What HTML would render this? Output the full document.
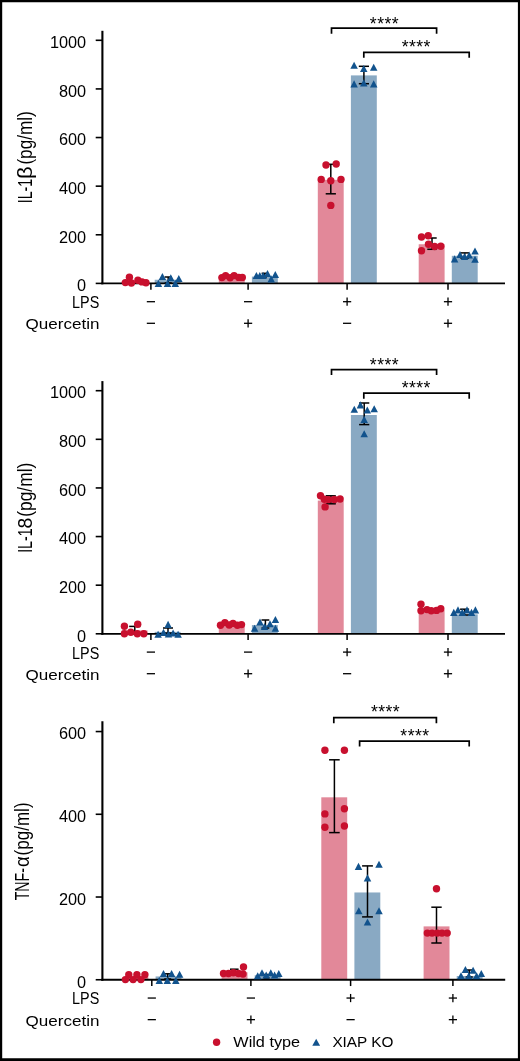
<!DOCTYPE html>
<html lang="en">
<head>
<meta charset="utf-8">
<title>Figure</title>
<style>
html,body{margin:0;padding:0;background:#fff;}
body{width:520px;height:1061px;overflow:hidden;}
svg{display:block;will-change:transform;transform:translateZ(0);font-family:'Liberation Sans', sans-serif;fill:#000;}
</style>
</head>
<body>
<svg width="520" height="1061" viewBox="0 0 520 1061">
<rect x="0" y="0" width="520" height="1061" fill="#fff"/>
<path d="M0 0H520V1061H0Z M2.2 2.25V1058.3H517.9V2.25Z" fill="#000" fill-rule="evenodd"/>
<rect x="121.6" y="281.46" width="25.9" height="1.94" fill="#E28899"/>
<rect x="154.7" y="279.75" width="25.9" height="3.65" fill="#89A9C3"/>
<rect x="218.8" y="277.32" width="25.9" height="6.08" fill="#E28899"/>
<rect x="251.9" y="276.59" width="25.9" height="6.81" fill="#89A9C3"/>
<rect x="317.8" y="179.84" width="25.9" height="103.56" fill="#E28899"/>
<rect x="350.9" y="75.4" width="25.9" height="208" fill="#89A9C3"/>
<rect x="418.7" y="244.26" width="25.9" height="39.14" fill="#E28899"/>
<rect x="451.8" y="255.81" width="25.9" height="27.59" fill="#89A9C3"/>
<line x1="102.4" y1="30.8" x2="102.4" y2="284.3" stroke="#000" stroke-width="2.1" stroke-linecap="butt"/>
<line x1="101.35" y1="283.4" x2="505" y2="283.4" stroke="#000" stroke-width="1.8" stroke-linecap="butt"/>
<line x1="95.7" y1="283.4" x2="102.4" y2="283.4" stroke="#000" stroke-width="1.6" stroke-linecap="butt"/>
<text x="86.15" y="291.15" font-size="16.3" text-anchor="end">0</text>
<line x1="95.7" y1="234.78" x2="102.4" y2="234.78" stroke="#000" stroke-width="1.6" stroke-linecap="butt"/>
<text x="86.15" y="242.53" font-size="16.3" text-anchor="end">200</text>
<line x1="95.7" y1="186.16" x2="102.4" y2="186.16" stroke="#000" stroke-width="1.6" stroke-linecap="butt"/>
<text x="86.15" y="193.91" font-size="16.3" text-anchor="end">400</text>
<line x1="95.7" y1="137.54" x2="102.4" y2="137.54" stroke="#000" stroke-width="1.6" stroke-linecap="butt"/>
<text x="86.15" y="145.29" font-size="16.3" text-anchor="end">600</text>
<line x1="95.7" y1="88.92" x2="102.4" y2="88.92" stroke="#000" stroke-width="1.6" stroke-linecap="butt"/>
<text x="86.15" y="96.67" font-size="16.3" text-anchor="end">800</text>
<line x1="95.7" y1="40.3" x2="102.4" y2="40.3" stroke="#000" stroke-width="1.6" stroke-linecap="butt"/>
<text x="86.15" y="48.05" font-size="16.3" text-anchor="end">1000</text>
<line x1="150.9" y1="283.4" x2="150.9" y2="289.7" stroke="#000" stroke-width="1.5" stroke-linecap="butt"/>
<line x1="248.1" y1="283.4" x2="248.1" y2="289.7" stroke="#000" stroke-width="1.5" stroke-linecap="butt"/>
<line x1="347.1" y1="283.4" x2="347.1" y2="289.7" stroke="#000" stroke-width="1.5" stroke-linecap="butt"/>
<line x1="448" y1="283.4" x2="448" y2="289.7" stroke="#000" stroke-width="1.5" stroke-linecap="butt"/>
<line x1="330.8" y1="164.3" x2="330.8" y2="193.8" stroke="#000" stroke-width="1.5" stroke-linecap="butt"/>
<line x1="325.7" y1="164.3" x2="335.9" y2="164.3" stroke="#000" stroke-width="1.5" stroke-linecap="butt"/>
<line x1="325.7" y1="193.8" x2="335.9" y2="193.8" stroke="#000" stroke-width="1.5" stroke-linecap="butt"/>
<line x1="363.9" y1="66.3" x2="363.9" y2="83.7" stroke="#000" stroke-width="1.5" stroke-linecap="butt"/>
<line x1="358.8" y1="66.3" x2="369" y2="66.3" stroke="#000" stroke-width="1.5" stroke-linecap="butt"/>
<line x1="358.8" y1="83.7" x2="369" y2="83.7" stroke="#000" stroke-width="1.5" stroke-linecap="butt"/>
<line x1="432" y1="238" x2="432" y2="249.3" stroke="#000" stroke-width="1.5" stroke-linecap="butt"/>
<line x1="427.3" y1="238" x2="436.7" y2="238" stroke="#000" stroke-width="1.5" stroke-linecap="butt"/>
<line x1="427.3" y1="249.3" x2="436.7" y2="249.3" stroke="#000" stroke-width="1.5" stroke-linecap="butt"/>
<line x1="464.7" y1="252.9" x2="464.7" y2="258" stroke="#000" stroke-width="1.5" stroke-linecap="butt"/>
<line x1="460.3" y1="252.9" x2="469.1" y2="252.9" stroke="#000" stroke-width="1.5" stroke-linecap="butt"/>
<line x1="460.3" y1="258" x2="469.1" y2="258" stroke="#000" stroke-width="1.5" stroke-linecap="butt"/>
<line x1="168.2" y1="277" x2="168.2" y2="283" stroke="#000" stroke-width="1.5" stroke-linecap="butt"/>
<line x1="164.6" y1="277" x2="171.8" y2="277" stroke="#000" stroke-width="1.5" stroke-linecap="butt"/>
<line x1="164.6" y1="283" x2="171.8" y2="283" stroke="#000" stroke-width="1.5" stroke-linecap="butt"/>
<line x1="264.2" y1="273.3" x2="264.2" y2="277" stroke="#000" stroke-width="1.5" stroke-linecap="butt"/>
<line x1="261.6" y1="273.3" x2="266.8" y2="273.3" stroke="#000" stroke-width="1.5" stroke-linecap="butt"/>
<line x1="261.6" y1="277" x2="266.8" y2="277" stroke="#000" stroke-width="1.5" stroke-linecap="butt"/>
<circle cx="125.4" cy="282.6" r="3.7" fill="#C8102E"/>
<circle cx="129.4" cy="277.3" r="3.7" fill="#C8102E"/>
<circle cx="131.4" cy="283" r="3.7" fill="#C8102E"/>
<circle cx="137.9" cy="280.2" r="3.7" fill="#C8102E"/>
<circle cx="142" cy="281.9" r="3.7" fill="#C8102E"/>
<circle cx="146" cy="282.8" r="3.7" fill="#C8102E"/>
<circle cx="221.9" cy="277.6" r="3.7" fill="#C8102E"/>
<circle cx="225.6" cy="275.6" r="3.7" fill="#C8102E"/>
<circle cx="230.1" cy="277.8" r="3.7" fill="#C8102E"/>
<circle cx="234.1" cy="275.6" r="3.7" fill="#C8102E"/>
<circle cx="238.8" cy="277.4" r="3.7" fill="#C8102E"/>
<circle cx="242.3" cy="277.4" r="3.7" fill="#C8102E"/>
<circle cx="326" cy="165" r="3.7" fill="#C8102E"/>
<circle cx="336.2" cy="164" r="3.7" fill="#C8102E"/>
<circle cx="321.2" cy="179.4" r="3.7" fill="#C8102E"/>
<circle cx="330.8" cy="180.8" r="3.7" fill="#C8102E"/>
<circle cx="341" cy="179.4" r="3.7" fill="#C8102E"/>
<circle cx="330.8" cy="205.4" r="3.7" fill="#C8102E"/>
<circle cx="421.5" cy="237" r="3.7" fill="#C8102E"/>
<circle cx="428.2" cy="235.8" r="3.7" fill="#C8102E"/>
<circle cx="428.5" cy="244.2" r="3.7" fill="#C8102E"/>
<circle cx="434.6" cy="246.5" r="3.7" fill="#C8102E"/>
<circle cx="440.8" cy="246.2" r="3.7" fill="#C8102E"/>
<circle cx="421.5" cy="250.8" r="3.7" fill="#C8102E"/>
<path d="M162.4 272.95L166.15 280L158.65 280Z" fill="#12538D"/>
<path d="M170.8 274.25L174.55 281.3L167.05 281.3Z" fill="#12538D"/>
<path d="M178.8 274.95L182.55 282L175.05 282Z" fill="#12538D"/>
<path d="M158.4 279.85L162.15 286.9L154.65 286.9Z" fill="#12538D"/>
<path d="M167.5 279.85L171.25 286.9L163.75 286.9Z" fill="#12538D"/>
<path d="M175.3 279.85L179.05 286.9L171.55 286.9Z" fill="#12538D"/>
<path d="M256.4 271.95L260.15 279L252.65 279Z" fill="#12538D"/>
<path d="M259.8 271.95L263.55 279L256.05 279Z" fill="#12538D"/>
<path d="M263.1 271.95L266.85 279L259.35 279Z" fill="#12538D"/>
<path d="M267.5 269.95L271.25 277L263.75 277Z" fill="#12538D"/>
<path d="M271.2 275.35L274.95 282.4L267.45 282.4Z" fill="#12538D"/>
<path d="M275.3 270.95L279.05 278L271.55 278Z" fill="#12538D"/>
<path d="M354.1 61.75L357.85 68.8L350.35 68.8Z" fill="#12538D"/>
<path d="M363.75 64.95L367.5 72L360 72Z" fill="#12538D"/>
<path d="M373.7 63.65L377.45 70.7L369.95 70.7Z" fill="#12538D"/>
<path d="M354.1 80.35L357.85 87.4L350.35 87.4Z" fill="#12538D"/>
<path d="M363.75 79.35L367.5 86.4L360 86.4Z" fill="#12538D"/>
<path d="M373.7 80.35L377.45 87.4L369.95 87.4Z" fill="#12538D"/>
<path d="M454.6 255.35L458.35 262.4L450.85 262.4Z" fill="#12538D"/>
<path d="M460 251.05L463.75 258.1L456.25 258.1Z" fill="#12538D"/>
<path d="M464.5 253.05L468.25 260.1L460.75 260.1Z" fill="#12538D"/>
<path d="M469.2 251.55L472.95 258.6L465.45 258.6Z" fill="#12538D"/>
<path d="M475 247.55L478.75 254.6L471.25 254.6Z" fill="#12538D"/>
<path d="M475 255.75L478.75 262.8L471.25 262.8Z" fill="#12538D"/>
<text x="72.1" y="308.1" font-size="15.6" text-anchor="start" textLength="27.2" lengthAdjust="spacingAndGlyphs">LPS</text>
<text x="25.6" y="329.35" font-size="15.5" text-anchor="start" textLength="73.9" lengthAdjust="spacingAndGlyphs">Quercetin</text>
<line x1="146.8" y1="301.7" x2="155" y2="301.7" stroke="#000" stroke-width="1.3" stroke-linecap="butt"/>
<line x1="146.8" y1="323.3" x2="155" y2="323.3" stroke="#000" stroke-width="1.3" stroke-linecap="butt"/>
<line x1="244" y1="301.7" x2="252.2" y2="301.7" stroke="#000" stroke-width="1.3" stroke-linecap="butt"/>
<line x1="244" y1="323.3" x2="252.2" y2="323.3" stroke="#000" stroke-width="1.3" stroke-linecap="butt"/>
<line x1="248.1" y1="319.2" x2="248.1" y2="327.4" stroke="#000" stroke-width="1.3" stroke-linecap="butt"/>
<line x1="343" y1="301.7" x2="351.2" y2="301.7" stroke="#000" stroke-width="1.3" stroke-linecap="butt"/>
<line x1="347.1" y1="297.6" x2="347.1" y2="305.8" stroke="#000" stroke-width="1.3" stroke-linecap="butt"/>
<line x1="343" y1="323.3" x2="351.2" y2="323.3" stroke="#000" stroke-width="1.3" stroke-linecap="butt"/>
<line x1="443.9" y1="301.7" x2="452.1" y2="301.7" stroke="#000" stroke-width="1.3" stroke-linecap="butt"/>
<line x1="448" y1="297.6" x2="448" y2="305.8" stroke="#000" stroke-width="1.3" stroke-linecap="butt"/>
<line x1="443.9" y1="323.3" x2="452.1" y2="323.3" stroke="#000" stroke-width="1.3" stroke-linecap="butt"/>
<line x1="448" y1="319.2" x2="448" y2="327.4" stroke="#000" stroke-width="1.3" stroke-linecap="butt"/>
<text transform="translate(31.6 203.2) rotate(-90)" x="0" y="0" font-size="20.2" text-anchor="start" textLength="24.3" lengthAdjust="spacingAndGlyphs">IL-1</text>
<text transform="translate(31.6 178.9) rotate(-90)" x="0" y="0" font-size="20.2" text-anchor="start" textLength="12.6" lengthAdjust="spacingAndGlyphs">β</text>
<text transform="translate(31.6 164.6) rotate(-90)" x="0" y="0" font-size="20.2" text-anchor="start" textLength="53.3" lengthAdjust="spacingAndGlyphs">(pg/ml)</text>
<path d="M331.5 33.65V28.2H436.6V33.65" fill="none" stroke="#000" stroke-width="1.7" stroke-linejoin="miter"/>
<text x="384.4" y="29.65" font-size="17.6" text-anchor="middle" letter-spacing="0.42">****</text>
<path d="M363.8 57.75V52.3H469.2V57.75" fill="none" stroke="#000" stroke-width="1.7" stroke-linejoin="miter"/>
<text x="416.2" y="53.15" font-size="17.6" text-anchor="middle" letter-spacing="0.42">****</text>
<rect x="121.6" y="630.4" width="25.9" height="3.4" fill="#E28899"/>
<rect x="154.7" y="631.86" width="25.9" height="1.94" fill="#89A9C3"/>
<rect x="218.8" y="625.29" width="25.9" height="8.51" fill="#E28899"/>
<rect x="251.9" y="625.05" width="25.9" height="8.75" fill="#89A9C3"/>
<rect x="317.8" y="500.58" width="25.9" height="133.22" fill="#E28899"/>
<rect x="350.9" y="415.01" width="25.9" height="218.79" fill="#89A9C3"/>
<rect x="418.7" y="610.22" width="25.9" height="23.58" fill="#E28899"/>
<rect x="451.8" y="614.35" width="25.9" height="19.45" fill="#89A9C3"/>
<line x1="102.4" y1="381.1" x2="102.4" y2="634.7" stroke="#000" stroke-width="2.1" stroke-linecap="butt"/>
<line x1="101.35" y1="633.8" x2="505" y2="633.8" stroke="#000" stroke-width="1.8" stroke-linecap="butt"/>
<line x1="95.7" y1="633.8" x2="102.4" y2="633.8" stroke="#000" stroke-width="1.6" stroke-linecap="butt"/>
<text x="86.15" y="641.55" font-size="16.3" text-anchor="end">0</text>
<line x1="95.7" y1="585.18" x2="102.4" y2="585.18" stroke="#000" stroke-width="1.6" stroke-linecap="butt"/>
<text x="86.15" y="592.93" font-size="16.3" text-anchor="end">200</text>
<line x1="95.7" y1="536.56" x2="102.4" y2="536.56" stroke="#000" stroke-width="1.6" stroke-linecap="butt"/>
<text x="86.15" y="544.31" font-size="16.3" text-anchor="end">400</text>
<line x1="95.7" y1="487.94" x2="102.4" y2="487.94" stroke="#000" stroke-width="1.6" stroke-linecap="butt"/>
<text x="86.15" y="495.69" font-size="16.3" text-anchor="end">600</text>
<line x1="95.7" y1="439.32" x2="102.4" y2="439.32" stroke="#000" stroke-width="1.6" stroke-linecap="butt"/>
<text x="86.15" y="447.07" font-size="16.3" text-anchor="end">800</text>
<line x1="95.7" y1="390.7" x2="102.4" y2="390.7" stroke="#000" stroke-width="1.6" stroke-linecap="butt"/>
<text x="86.15" y="398.45" font-size="16.3" text-anchor="end">1000</text>
<line x1="150.9" y1="633.8" x2="150.9" y2="640.1" stroke="#000" stroke-width="1.5" stroke-linecap="butt"/>
<line x1="248.1" y1="633.8" x2="248.1" y2="640.1" stroke="#000" stroke-width="1.5" stroke-linecap="butt"/>
<line x1="347.1" y1="633.8" x2="347.1" y2="640.1" stroke="#000" stroke-width="1.5" stroke-linecap="butt"/>
<line x1="448" y1="633.8" x2="448" y2="640.1" stroke="#000" stroke-width="1.5" stroke-linecap="butt"/>
<line x1="330.8" y1="495.8" x2="330.8" y2="503.8" stroke="#000" stroke-width="1.5" stroke-linecap="butt"/>
<line x1="325.8" y1="495.8" x2="335.8" y2="495.8" stroke="#000" stroke-width="1.5" stroke-linecap="butt"/>
<line x1="325.8" y1="503.8" x2="335.8" y2="503.8" stroke="#000" stroke-width="1.5" stroke-linecap="butt"/>
<line x1="364.2" y1="403" x2="364.2" y2="424.6" stroke="#000" stroke-width="1.5" stroke-linecap="butt"/>
<line x1="359.1" y1="403" x2="369.3" y2="403" stroke="#000" stroke-width="1.5" stroke-linecap="butt"/>
<line x1="359.1" y1="424.6" x2="369.3" y2="424.6" stroke="#000" stroke-width="1.5" stroke-linecap="butt"/>
<line x1="464.6" y1="609.2" x2="464.6" y2="615" stroke="#000" stroke-width="1.5" stroke-linecap="butt"/>
<line x1="460.1" y1="609.2" x2="469.1" y2="609.2" stroke="#000" stroke-width="1.5" stroke-linecap="butt"/>
<line x1="460.1" y1="615" x2="469.1" y2="615" stroke="#000" stroke-width="1.5" stroke-linecap="butt"/>
<line x1="134.8" y1="626.4" x2="134.8" y2="633" stroke="#000" stroke-width="1.5" stroke-linecap="butt"/>
<line x1="129.2" y1="626.4" x2="140.4" y2="626.4" stroke="#000" stroke-width="1.5" stroke-linecap="butt"/>
<line x1="129.2" y1="633" x2="140.4" y2="633" stroke="#000" stroke-width="1.5" stroke-linecap="butt"/>
<line x1="168" y1="628" x2="168" y2="633" stroke="#000" stroke-width="1.5" stroke-linecap="butt"/>
<line x1="163" y1="628" x2="173" y2="628" stroke="#000" stroke-width="1.5" stroke-linecap="butt"/>
<line x1="163" y1="633" x2="173" y2="633" stroke="#000" stroke-width="1.5" stroke-linecap="butt"/>
<line x1="265.4" y1="620" x2="265.4" y2="628" stroke="#000" stroke-width="1.5" stroke-linecap="butt"/>
<line x1="261.5" y1="620" x2="269.3" y2="620" stroke="#000" stroke-width="1.5" stroke-linecap="butt"/>
<line x1="261.5" y1="628" x2="269.3" y2="628" stroke="#000" stroke-width="1.5" stroke-linecap="butt"/>
<circle cx="124.4" cy="626.2" r="3.7" fill="#C8102E"/>
<circle cx="137.7" cy="624.2" r="3.7" fill="#C8102E"/>
<circle cx="124.4" cy="633.7" r="3.7" fill="#C8102E"/>
<circle cx="130.8" cy="632.3" r="3.7" fill="#C8102E"/>
<circle cx="137.3" cy="633.7" r="3.7" fill="#C8102E"/>
<circle cx="143.8" cy="633.7" r="3.7" fill="#C8102E"/>
<circle cx="220.5" cy="625.2" r="3.7" fill="#C8102E"/>
<circle cx="224.9" cy="622.6" r="3.7" fill="#C8102E"/>
<circle cx="229.2" cy="625" r="3.7" fill="#C8102E"/>
<circle cx="233" cy="623.4" r="3.7" fill="#C8102E"/>
<circle cx="237.4" cy="625.2" r="3.7" fill="#C8102E"/>
<circle cx="241.5" cy="624.6" r="3.7" fill="#C8102E"/>
<circle cx="320.5" cy="495.8" r="3.7" fill="#C8102E"/>
<circle cx="324.3" cy="499.2" r="3.7" fill="#C8102E"/>
<circle cx="328.5" cy="499.6" r="3.7" fill="#C8102E"/>
<circle cx="334.3" cy="499.5" r="3.7" fill="#C8102E"/>
<circle cx="340.1" cy="499" r="3.7" fill="#C8102E"/>
<circle cx="325.1" cy="506.9" r="3.7" fill="#C8102E"/>
<circle cx="421" cy="604.2" r="3.7" fill="#C8102E"/>
<circle cx="421" cy="610.8" r="3.7" fill="#C8102E"/>
<circle cx="427" cy="609.6" r="3.7" fill="#C8102E"/>
<circle cx="431.2" cy="610.8" r="3.7" fill="#C8102E"/>
<circle cx="436.5" cy="610.4" r="3.7" fill="#C8102E"/>
<circle cx="440.8" cy="608.8" r="3.7" fill="#C8102E"/>
<path d="M168.1 620.85L171.85 627.9L164.35 627.9Z" fill="#12538D"/>
<path d="M158.1 630.75L161.85 637.8L154.35 637.8Z" fill="#12538D"/>
<path d="M163.5 628.85L167.25 635.9L159.75 635.9Z" fill="#12538D"/>
<path d="M168.5 630.55L172.25 637.6L164.75 637.6Z" fill="#12538D"/>
<path d="M173.1 629.45L176.85 636.5L169.35 636.5Z" fill="#12538D"/>
<path d="M178.1 630.75L181.85 637.8L174.35 637.8Z" fill="#12538D"/>
<path d="M260 618.55L263.75 625.6L256.25 625.6Z" fill="#12538D"/>
<path d="M275.4 616.05L279.15 623.1L271.65 623.1Z" fill="#12538D"/>
<path d="M270 620.15L273.75 627.2L266.25 627.2Z" fill="#12538D"/>
<path d="M254.6 624.75L258.35 631.8L250.85 631.8Z" fill="#12538D"/>
<path d="M264.6 622.95L268.35 630L260.85 630Z" fill="#12538D"/>
<path d="M275.4 624.75L279.15 631.8L271.65 631.8Z" fill="#12538D"/>
<path d="M360.4 401.35L364.15 408.4L356.65 408.4Z" fill="#12538D"/>
<path d="M354.3 405.65L358.05 412.7L350.55 412.7Z" fill="#12538D"/>
<path d="M367.3 406.55L371.05 413.6L363.55 413.6Z" fill="#12538D"/>
<path d="M374.2 405.15L377.95 412.2L370.45 412.2Z" fill="#12538D"/>
<path d="M364.2 415.85L367.95 422.9L360.45 422.9Z" fill="#12538D"/>
<path d="M364.2 430.25L367.95 437.3L360.45 437.3Z" fill="#12538D"/>
<path d="M453.8 608.85L457.55 615.9L450.05 615.9Z" fill="#12538D"/>
<path d="M458 606.35L461.75 613.4L454.25 613.4Z" fill="#12538D"/>
<path d="M462.3 608.85L466.05 615.9L458.55 615.9Z" fill="#12538D"/>
<path d="M467 606.35L470.75 613.4L463.25 613.4Z" fill="#12538D"/>
<path d="M471.5 608.85L475.25 615.9L467.75 615.9Z" fill="#12538D"/>
<path d="M475.4 606.35L479.15 613.4L471.65 613.4Z" fill="#12538D"/>
<text x="72.1" y="658.5" font-size="15.6" text-anchor="start" textLength="27.2" lengthAdjust="spacingAndGlyphs">LPS</text>
<text x="25.6" y="679.75" font-size="15.5" text-anchor="start" textLength="73.9" lengthAdjust="spacingAndGlyphs">Quercetin</text>
<line x1="146.8" y1="652.1" x2="155" y2="652.1" stroke="#000" stroke-width="1.3" stroke-linecap="butt"/>
<line x1="146.8" y1="673.7" x2="155" y2="673.7" stroke="#000" stroke-width="1.3" stroke-linecap="butt"/>
<line x1="244" y1="652.1" x2="252.2" y2="652.1" stroke="#000" stroke-width="1.3" stroke-linecap="butt"/>
<line x1="244" y1="673.7" x2="252.2" y2="673.7" stroke="#000" stroke-width="1.3" stroke-linecap="butt"/>
<line x1="248.1" y1="669.6" x2="248.1" y2="677.8" stroke="#000" stroke-width="1.3" stroke-linecap="butt"/>
<line x1="343" y1="652.1" x2="351.2" y2="652.1" stroke="#000" stroke-width="1.3" stroke-linecap="butt"/>
<line x1="347.1" y1="648" x2="347.1" y2="656.2" stroke="#000" stroke-width="1.3" stroke-linecap="butt"/>
<line x1="343" y1="673.7" x2="351.2" y2="673.7" stroke="#000" stroke-width="1.3" stroke-linecap="butt"/>
<line x1="443.9" y1="652.1" x2="452.1" y2="652.1" stroke="#000" stroke-width="1.3" stroke-linecap="butt"/>
<line x1="448" y1="648" x2="448" y2="656.2" stroke="#000" stroke-width="1.3" stroke-linecap="butt"/>
<line x1="443.9" y1="673.7" x2="452.1" y2="673.7" stroke="#000" stroke-width="1.3" stroke-linecap="butt"/>
<line x1="448" y1="669.6" x2="448" y2="677.8" stroke="#000" stroke-width="1.3" stroke-linecap="butt"/>
<text transform="translate(31.6 552.8) rotate(-90)" x="0" y="0" font-size="20.2" text-anchor="start" textLength="24.3" lengthAdjust="spacingAndGlyphs">IL-1</text>
<text transform="translate(31.6 528.6) rotate(-90)" x="0" y="0" font-size="20.2" text-anchor="start" textLength="10.8" lengthAdjust="spacingAndGlyphs">8</text>
<text transform="translate(31.6 516.8) rotate(-90)" x="0" y="0" font-size="20.2" text-anchor="start" textLength="54.1" lengthAdjust="spacingAndGlyphs">(pg/ml)</text>
<path d="M331.5 375.05V369.6H436.6V375.05" fill="none" stroke="#000" stroke-width="1.7" stroke-linejoin="miter"/>
<text x="384.4" y="370.55" font-size="17.6" text-anchor="middle" letter-spacing="0.42">****</text>
<path d="M363.8 398.65V393.2H469.2V398.65" fill="none" stroke="#000" stroke-width="1.7" stroke-linejoin="miter"/>
<text x="416.2" y="393.85" font-size="17.6" text-anchor="middle" letter-spacing="0.42">****</text>
<rect x="122.5" y="977.27" width="25.9" height="2.48" fill="#E28899"/>
<rect x="155.6" y="976.44" width="25.9" height="3.31" fill="#89A9C3"/>
<rect x="221.6" y="972.3" width="25.9" height="7.45" fill="#E28899"/>
<rect x="254.7" y="975.2" width="25.9" height="4.55" fill="#89A9C3"/>
<rect x="321.3" y="797.32" width="25.9" height="182.43" fill="#E28899"/>
<rect x="354.4" y="892.47" width="25.9" height="87.28" fill="#89A9C3"/>
<rect x="423.6" y="926.39" width="25.9" height="53.36" fill="#E28899"/>
<rect x="456.7" y="976.03" width="25.9" height="3.72" fill="#89A9C3"/>
<line x1="102.4" y1="721.2" x2="102.4" y2="980.65" stroke="#000" stroke-width="2.1" stroke-linecap="butt"/>
<line x1="101.35" y1="979.75" x2="505.2" y2="979.75" stroke="#000" stroke-width="1.8" stroke-linecap="butt"/>
<line x1="95.7" y1="979.75" x2="102.4" y2="979.75" stroke="#000" stroke-width="1.6" stroke-linecap="butt"/>
<text x="86.15" y="987.5" font-size="16.3" text-anchor="end">0</text>
<line x1="95.7" y1="897.02" x2="102.4" y2="897.02" stroke="#000" stroke-width="1.6" stroke-linecap="butt"/>
<text x="86.15" y="904.77" font-size="16.3" text-anchor="end">200</text>
<line x1="95.7" y1="814.28" x2="102.4" y2="814.28" stroke="#000" stroke-width="1.6" stroke-linecap="butt"/>
<text x="86.15" y="822.03" font-size="16.3" text-anchor="end">400</text>
<line x1="95.7" y1="731.55" x2="102.4" y2="731.55" stroke="#000" stroke-width="1.6" stroke-linecap="butt"/>
<text x="86.15" y="739.3" font-size="16.3" text-anchor="end">600</text>
<line x1="151.8" y1="979.75" x2="151.8" y2="986.05" stroke="#000" stroke-width="1.5" stroke-linecap="butt"/>
<line x1="250.9" y1="979.75" x2="250.9" y2="986.05" stroke="#000" stroke-width="1.5" stroke-linecap="butt"/>
<line x1="350.6" y1="979.75" x2="350.6" y2="986.05" stroke="#000" stroke-width="1.5" stroke-linecap="butt"/>
<line x1="452.9" y1="979.75" x2="452.9" y2="986.05" stroke="#000" stroke-width="1.5" stroke-linecap="butt"/>
<line x1="334.4" y1="759.8" x2="334.4" y2="832.6" stroke="#000" stroke-width="1.5" stroke-linecap="butt"/>
<line x1="329.1" y1="759.8" x2="339.7" y2="759.8" stroke="#000" stroke-width="1.5" stroke-linecap="butt"/>
<line x1="329.1" y1="832.6" x2="339.7" y2="832.6" stroke="#000" stroke-width="1.5" stroke-linecap="butt"/>
<line x1="367.5" y1="865.9" x2="367.5" y2="916.9" stroke="#000" stroke-width="1.5" stroke-linecap="butt"/>
<line x1="362.1" y1="865.9" x2="372.9" y2="865.9" stroke="#000" stroke-width="1.5" stroke-linecap="butt"/>
<line x1="362.1" y1="916.9" x2="372.9" y2="916.9" stroke="#000" stroke-width="1.5" stroke-linecap="butt"/>
<line x1="436.5" y1="907.2" x2="436.5" y2="943" stroke="#000" stroke-width="1.5" stroke-linecap="butt"/>
<line x1="431.3" y1="907.2" x2="441.7" y2="907.2" stroke="#000" stroke-width="1.5" stroke-linecap="butt"/>
<line x1="431.3" y1="943" x2="441.7" y2="943" stroke="#000" stroke-width="1.5" stroke-linecap="butt"/>
<line x1="469.2" y1="970" x2="469.2" y2="977" stroke="#000" stroke-width="1.5" stroke-linecap="butt"/>
<line x1="465.7" y1="970" x2="472.7" y2="970" stroke="#000" stroke-width="1.5" stroke-linecap="butt"/>
<line x1="465.7" y1="977" x2="472.7" y2="977" stroke="#000" stroke-width="1.5" stroke-linecap="butt"/>
<line x1="167.7" y1="973.8" x2="167.7" y2="979" stroke="#000" stroke-width="1.5" stroke-linecap="butt"/>
<line x1="164.2" y1="973.8" x2="171.2" y2="973.8" stroke="#000" stroke-width="1.5" stroke-linecap="butt"/>
<line x1="164.2" y1="979" x2="171.2" y2="979" stroke="#000" stroke-width="1.5" stroke-linecap="butt"/>
<line x1="234.3" y1="969.2" x2="234.3" y2="975" stroke="#000" stroke-width="1.5" stroke-linecap="butt"/>
<line x1="230" y1="969.2" x2="238.6" y2="969.2" stroke="#000" stroke-width="1.5" stroke-linecap="butt"/>
<line x1="230" y1="975" x2="238.6" y2="975" stroke="#000" stroke-width="1.5" stroke-linecap="butt"/>
<line x1="266.5" y1="974.6" x2="266.5" y2="978" stroke="#000" stroke-width="1.5" stroke-linecap="butt"/>
<line x1="263.5" y1="974.6" x2="269.5" y2="974.6" stroke="#000" stroke-width="1.5" stroke-linecap="butt"/>
<line x1="263.5" y1="978" x2="269.5" y2="978" stroke="#000" stroke-width="1.5" stroke-linecap="butt"/>
<circle cx="128.8" cy="974.8" r="3.7" fill="#C8102E"/>
<circle cx="136.9" cy="974.8" r="3.7" fill="#C8102E"/>
<circle cx="144.9" cy="974.8" r="3.7" fill="#C8102E"/>
<circle cx="125.4" cy="979.6" r="3.7" fill="#C8102E"/>
<circle cx="133.1" cy="979.6" r="3.7" fill="#C8102E"/>
<circle cx="140.9" cy="979.6" r="3.7" fill="#C8102E"/>
<circle cx="243.5" cy="967" r="3.7" fill="#C8102E"/>
<circle cx="223.5" cy="973.5" r="3.7" fill="#C8102E"/>
<circle cx="228.5" cy="973.5" r="3.7" fill="#C8102E"/>
<circle cx="233.4" cy="972.8" r="3.7" fill="#C8102E"/>
<circle cx="238.5" cy="973.5" r="3.7" fill="#C8102E"/>
<circle cx="243" cy="974" r="3.7" fill="#C8102E"/>
<circle cx="324.9" cy="750.2" r="3.7" fill="#C8102E"/>
<circle cx="344.4" cy="750.2" r="3.7" fill="#C8102E"/>
<circle cx="344.4" cy="808.7" r="3.7" fill="#C8102E"/>
<circle cx="324.9" cy="813.9" r="3.7" fill="#C8102E"/>
<circle cx="324.9" cy="827.2" r="3.7" fill="#C8102E"/>
<circle cx="344.4" cy="826" r="3.7" fill="#C8102E"/>
<circle cx="436.5" cy="888.7" r="3.7" fill="#C8102E"/>
<circle cx="427.3" cy="933.1" r="3.7" fill="#C8102E"/>
<circle cx="432.1" cy="933.1" r="3.7" fill="#C8102E"/>
<circle cx="437.3" cy="933.1" r="3.7" fill="#C8102E"/>
<circle cx="442" cy="933.1" r="3.7" fill="#C8102E"/>
<circle cx="447.2" cy="933.1" r="3.7" fill="#C8102E"/>
<path d="M163.5 969.95L167.25 977L159.75 977Z" fill="#12538D"/>
<path d="M171.6 969.95L175.35 977L167.85 977Z" fill="#12538D"/>
<path d="M179.6 970.75L183.35 977.8L175.85 977.8Z" fill="#12538D"/>
<path d="M159.3 976.85L163.05 983.9L155.55 983.9Z" fill="#12538D"/>
<path d="M167.3 976.85L171.05 983.9L163.55 983.9Z" fill="#12538D"/>
<path d="M175.8 976.85L179.55 983.9L172.05 983.9Z" fill="#12538D"/>
<path d="M257.7 972.25L261.45 979.3L253.95 979.3Z" fill="#12538D"/>
<path d="M262 969.15L265.75 976.2L258.25 976.2Z" fill="#12538D"/>
<path d="M266.2 971.55L269.95 978.6L262.45 978.6Z" fill="#12538D"/>
<path d="M270.8 969.15L274.55 976.2L267.05 976.2Z" fill="#12538D"/>
<path d="M274.6 971.55L278.35 978.6L270.85 978.6Z" fill="#12538D"/>
<path d="M278.8 969.95L282.55 977L275.05 977Z" fill="#12538D"/>
<path d="M358.5 862.85L362.25 869.9L354.75 869.9Z" fill="#12538D"/>
<path d="M379 860.75L382.75 867.8L375.25 867.8Z" fill="#12538D"/>
<path d="M367.5 874.35L371.25 881.4L363.75 881.4Z" fill="#12538D"/>
<path d="M358.8 907.25L362.55 914.3L355.05 914.3Z" fill="#12538D"/>
<path d="M379 907.25L382.75 914.3L375.25 914.3Z" fill="#12538D"/>
<path d="M367.5 918.55L371.25 925.6L363.75 925.6Z" fill="#12538D"/>
<path d="M465.4 966.05L469.15 973.1L461.65 973.1Z" fill="#12538D"/>
<path d="M473.1 966.75L476.85 973.8L469.35 973.8Z" fill="#12538D"/>
<path d="M461 972.15L464.75 979.2L457.25 979.2Z" fill="#12538D"/>
<path d="M468.8 972.15L472.55 979.2L465.05 979.2Z" fill="#12538D"/>
<path d="M476.6 972.15L480.35 979.2L472.85 979.2Z" fill="#12538D"/>
<path d="M481.3 970.05L485.05 977.1L477.55 977.1Z" fill="#12538D"/>
<text x="72.1" y="1004.45" font-size="15.6" text-anchor="start" textLength="27.2" lengthAdjust="spacingAndGlyphs">LPS</text>
<text x="25.6" y="1025.7" font-size="15.5" text-anchor="start" textLength="73.9" lengthAdjust="spacingAndGlyphs">Quercetin</text>
<line x1="147.7" y1="998.05" x2="155.9" y2="998.05" stroke="#000" stroke-width="1.3" stroke-linecap="butt"/>
<line x1="147.7" y1="1019.65" x2="155.9" y2="1019.65" stroke="#000" stroke-width="1.3" stroke-linecap="butt"/>
<line x1="246.8" y1="998.05" x2="255" y2="998.05" stroke="#000" stroke-width="1.3" stroke-linecap="butt"/>
<line x1="246.8" y1="1019.65" x2="255" y2="1019.65" stroke="#000" stroke-width="1.3" stroke-linecap="butt"/>
<line x1="250.9" y1="1015.55" x2="250.9" y2="1023.75" stroke="#000" stroke-width="1.3" stroke-linecap="butt"/>
<line x1="346.5" y1="998.05" x2="354.7" y2="998.05" stroke="#000" stroke-width="1.3" stroke-linecap="butt"/>
<line x1="350.6" y1="993.95" x2="350.6" y2="1002.15" stroke="#000" stroke-width="1.3" stroke-linecap="butt"/>
<line x1="346.5" y1="1019.65" x2="354.7" y2="1019.65" stroke="#000" stroke-width="1.3" stroke-linecap="butt"/>
<line x1="448.8" y1="998.05" x2="457" y2="998.05" stroke="#000" stroke-width="1.3" stroke-linecap="butt"/>
<line x1="452.9" y1="993.95" x2="452.9" y2="1002.15" stroke="#000" stroke-width="1.3" stroke-linecap="butt"/>
<line x1="448.8" y1="1019.65" x2="457" y2="1019.65" stroke="#000" stroke-width="1.3" stroke-linecap="butt"/>
<line x1="452.9" y1="1015.55" x2="452.9" y2="1023.75" stroke="#000" stroke-width="1.3" stroke-linecap="butt"/>
<text transform="translate(28.6 900.3) rotate(-90)" x="0" y="0" font-size="20.2" text-anchor="start" textLength="32.3" lengthAdjust="spacingAndGlyphs">TNF-</text>
<text transform="translate(28.6 867) rotate(-90)" x="0" y="0" font-size="20.2" text-anchor="start" textLength="10.8" lengthAdjust="spacingAndGlyphs">α</text>
<text transform="translate(28.6 855.5) rotate(-90)" x="0" y="0" font-size="20.2" text-anchor="start" textLength="53.1" lengthAdjust="spacingAndGlyphs">(pg/ml)</text>
<path d="M333.8 723.15V717.7H436.4V723.15" fill="none" stroke="#000" stroke-width="1.7" stroke-linejoin="miter"/>
<text x="385.5" y="717.75" font-size="17.6" text-anchor="middle" letter-spacing="0.42">****</text>
<path d="M359.6 746.55V741.1H469.2V746.55" fill="none" stroke="#000" stroke-width="1.7" stroke-linejoin="miter"/>
<text x="414.9" y="742.15" font-size="17.6" text-anchor="middle" letter-spacing="0.42">****</text>
<circle cx="216.6" cy="1042.3" r="3.7" fill="#C8102E"/>
<text x="233.3" y="1047.1" font-size="14.8" text-anchor="start" textLength="66.8" lengthAdjust="spacingAndGlyphs">Wild type</text>
<path d="M316.2 1038.7L320.1 1045.8L312.3 1045.8Z" fill="#12538D"/>
<text x="332.4" y="1047.1" font-size="14.8" text-anchor="start" textLength="61" lengthAdjust="spacingAndGlyphs">XIAP KO</text>
</svg>
</body>
</html>
